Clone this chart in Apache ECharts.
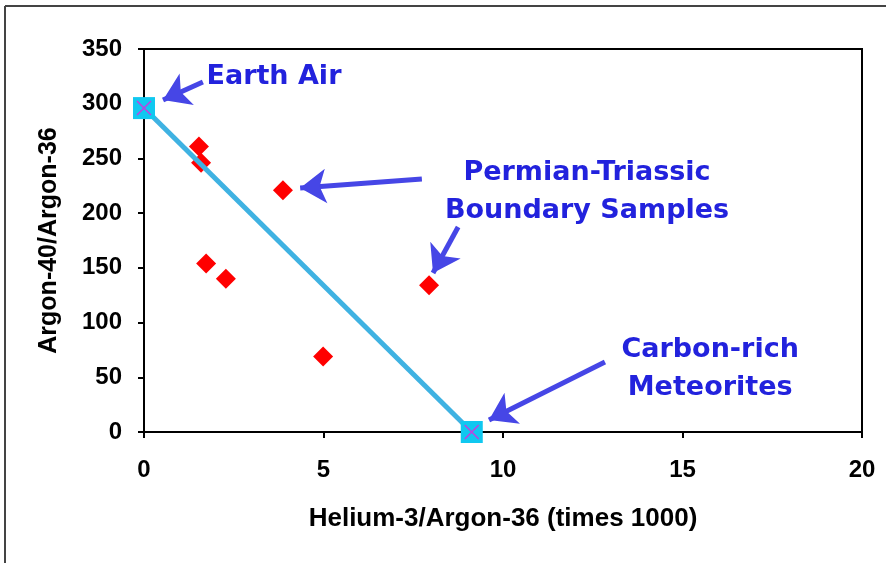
<!DOCTYPE html>
<html>
<head>
<meta charset="utf-8">
<script src="https://cdn.jsdelivr.net/npm/echarts@6/dist/echarts.min.js"></script>
<style>html,body{margin:0;padding:0;background:#fff;}#c{width:886px;height:563px;}</style>
</head>
<body>
<div id="c"></div>
<script>
// Data
var samples = [[1.53, 261], [1.59, 246], [3.87, 221], [1.73, 154], [2.28, 140], [4.99, 69], [7.94, 134]];
var endMembers = [[0, 296], [9.13, 0]];
var mixingLine = [[0, 296], [9.13, 0]];
var xTicks = [0, 5, 10, 15, 20];
var yTicks = [0, 50, 100, 150, 200, 250, 300, 350];
var annotations = [
  {name: 'Earth Air', value: [3.62, 324]},
  {name: 'Permian-Triassic\nBoundary Samples', value: [12.34, 219]},
  {name: 'Carbon-rich\nMeteorites', value: [15.77, 58]}
];
var arrows = [
  [[1.64, 319.8], [0.53, 303.4]],
  [[7.74, 231.2], [4.35, 223]],
  [[8.75, 187.3], [8.05, 145.3]],
  [[12.84, 64], [9.61, 11]]
];

var chart = echarts.init(document.getElementById('c'));
var axisFont = {color: '#000', fontWeight: 'bold', fontFamily: 'Liberation Sans, Arial, sans-serif'};
chart.setOption({
  animation: false,
  backgroundColor: '#fff',
  grid: {left: 144, top: 49, right: 24, bottom: 131, show: true, borderColor: '#000', borderWidth: 2, backgroundColor: 'transparent'},
  xAxis: {
    type: 'value', min: xTicks[0], max: xTicks[xTicks.length - 1], interval: 5,
    name: 'Helium-3/Argon-36 (times 1000)', nameLocation: 'middle', nameGap: 74,
    nameTextStyle: Object.assign({fontSize: 26}, axisFont),
    axisLine: {show: true, lineStyle: {color: '#000', width: 2}},
    axisTick: {show: true, inside: false, length: 6, lineStyle: {color: '#000', width: 2}},
    axisLabel: Object.assign({margin: 26, fontSize: 24}, axisFont),
    splitLine: {show: false}
  },
  yAxis: {
    type: 'value', min: yTicks[0], max: yTicks[yTicks.length - 1], interval: 50,
    name: 'Argon-40/Argon-36', nameLocation: 'middle', nameGap: 82, nameRotate: 90,
    nameTextStyle: Object.assign({fontSize: 25}, axisFont),
    axisLine: {show: true, lineStyle: {color: '#000', width: 2}},
    axisTick: {show: true, inside: false, length: 6, lineStyle: {color: '#000', width: 2}},
    axisLabel: Object.assign({margin: 22, fontSize: 24}, axisFont),
    splitLine: {show: false}
  },
  graphic: [
    {type: 'line', shape: {x1: 5, y1: 6, x2: 5, y2: 563}, style: {stroke: '#444', lineWidth: 2}},
    {type: 'line', shape: {x1: 5, y1: 6, x2: 886, y2: 6}, style: {stroke: '#444', lineWidth: 2}}
  ],
  series: [
    {
      type: 'scatter', name: 'samples', data: samples, symbol: 'diamond', symbolSize: [20, 20],
      itemStyle: {color: '#ff0000', opacity: 1}, z: 2
    },
    {
      type: 'line', data: mixingLine, showSymbol: false, symbol: 'none',
      lineStyle: {color: '#3fb2e2', width: 5}, z: 3
    },
    {
      type: 'scatter', data: endMembers, symbol: 'rect', symbolSize: 22,
      itemStyle: {color: '#10c8f0', opacity: 1}, z: 4
    },
    {
      type: 'scatter', data: endMembers, symbol: 'path://M0,0L10,10M10,0L0,10', symbolSize: 14,
      itemStyle: {color: 'none', borderColor: '#c040e0', borderWidth: 1.5, opacity: 1}, z: 5
    },
    {
      type: 'lines', coordinateSystem: 'cartesian2d', z: 6,
      data: arrows.map(function (a) { return {coords: a}; }),
      symbol: ['none', 'arrow'], symbolSize: [1, 26],
      lineStyle: {color: '#4646e6', width: 5, opacity: 1}
    },
    {
      type: 'scatter', data: annotations, symbolSize: 0, z: 7,
      itemStyle: {opacity: 1},
      label: {
        show: true, position: 'inside', formatter: '{b}',
        color: '#2222dd', fontWeight: 'bold', fontFamily: 'DejaVu Sans, sans-serif',
        fontSize: 27, lineHeight: 38, align: 'center'
      }
    }
  ]
});
</script>
</body>
</html>
